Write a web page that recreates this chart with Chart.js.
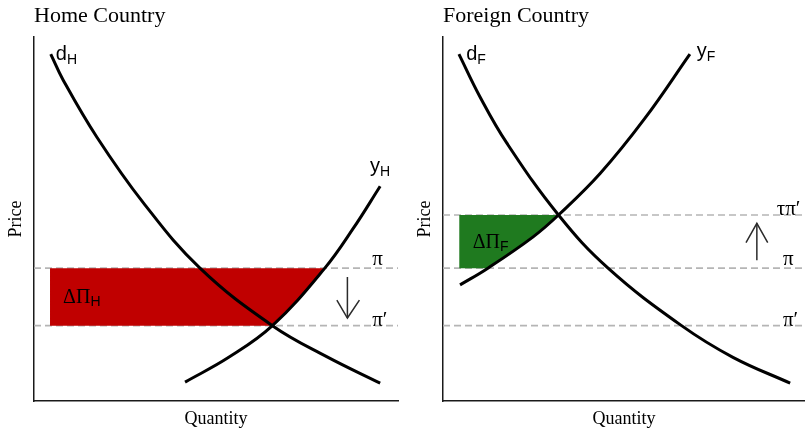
<!DOCTYPE html>
<html>
<head>
<meta charset="utf-8">
<script src="https://cdn.jsdelivr.net/npm/chart.js@4/dist/chart.umd.min.js"></script>
<style>
  html, body { margin: 0; padding: 0; background: #fff; overflow: hidden; }
  #home { position: absolute; left: 0; top: 0; }
  #foreign { position: absolute; left: 409px; top: 0; }
</style>
</head>
<body>
<canvas id="home" width="409" height="430"></canvas>
<canvas id="foreign" width="396" height="430"></canvas>
<script>
// Both panels use a 0–100 quantity axis and a 0–100 price axis.
// Curves are given as [quantity, price] pairs.
const homeDemand = [[4.6, 95.3], [8.0, 88.2], [17.2, 72.6], [30.0, 54.5], [45.6, 36.5], [65.5, 20.7], [80.4, 12.2], [95.1, 4.9]];
const homeSupply = [[41.5, 5.2], [53.5, 12.0], [65.5, 20.7], [79.9, 36.5], [87.7, 47.4], [95.1, 59.0]];
const foreignDemand = [[4.4, 95.3], [10.2, 83.6], [17.6, 70.9], [31.9, 51.1], [45.6, 36.5], [65.9, 20.7], [80.1, 12.0], [95.9, 4.9]];
const foreignSupply = [[4.7, 31.9], [12.4, 36.5], [24.9, 45.1], [31.9, 51.1], [43.4, 62.5], [55.8, 77.7], [68.2, 95.3]];

// Price levels
const worldPrice = 36.5;     // π
const newWorldPrice = 20.7;  // π′
const tariffPrice = 51.1;    // τπ′
const homeLevels = [worldPrice, newWorldPrice];
const foreignLevels = [tariffPrice, worldPrice, newWorldPrice];

// Direction arrows: shaft and open head, as [quantity, price]
const homeArrowShaft = [[86.1, 34.1], [86.1, 22.8]];
const homeArrowHead = [[83.2, 27.7], [86.1, 22.8], [89.4, 27.7]];
const foreignArrowShaft = [[86.7, 38.7], [86.7, 48.8]];
const foreignArrowHead = [[83.7, 43.5], [86.7, 48.8], [89.7, 43.5]];

// Change in profits: shaded band from this quantity to the supply curve
const homeShadeStart = 4.4;
const foreignShadeStart = 4.5;

const SERIF = '"Liberation Serif", "Times New Roman", serif';
const SANS = '"Liberation Sans", Arial, sans-serif';

const pts = arr => arr.map(([x, y]) => ({ x, y }));

function curve(arr) {
  return {
    data: pts(arr), borderColor: '#000', borderWidth: 3,
    pointRadius: 0, fill: false, tension: 0.4,
    borderCapStyle: 'butt', borderJoinStyle: 'round'
  };
}
function stroke(arr) {
  return {
    data: pts(arr), borderColor: '#2b2b2b', borderWidth: 1.5,
    pointRadius: 0, fill: false, tension: 0, borderJoinStyle: 'miter'
  };
}
function level(v) {
  return {
    data: [{ x: 0, y: v }, { x: 100, y: v }], borderColor: '#b5b5b5',
    borderWidth: 1.6, borderDash: [7, 4], pointRadius: 0, fill: false, tension: 0
  };
}

// Shades the region between two price levels, bounded on the right by
// the supply curve (following the curve's own bezier path).
function shadePlugin(spec) {
  return {
    id: 'shade',
    beforeDatasetDraw(chart, args) {
      if (args.index !== spec.curveIndex) return;
      const ctx = chart.ctx, xs = chart.scales.x, ys = chart.scales.y;
      const meta = chart.getDatasetMeta(spec.curveIndex);
      meta.dataset.updateControlPoints(chart.chartArea, 'x');
      const p = meta.data;
      const data = chart.data.datasets[spec.curveIndex].data;
      const i0 = data.findIndex(d => d.y === spec.low);
      const i1 = data.findIndex(d => d.y === spec.high);
      ctx.save();
      ctx.beginPath();
      ctx.moveTo(xs.getPixelForValue(spec.start), ys.getPixelForValue(spec.low));
      ctx.lineTo(p[i0].x, p[i0].y);
      for (let i = i0 + 1; i <= i1; i++) {
        ctx.bezierCurveTo(p[i - 1].cp2x, p[i - 1].cp2y, p[i].cp1x, p[i].cp1y, p[i].x, p[i].y);
      }
      ctx.lineTo(xs.getPixelForValue(spec.start), ys.getPixelForValue(spec.high));
      ctx.closePath();
      ctx.fillStyle = spec.color;
      ctx.fill();
      ctx.restore();
    }
  };
}

// Text annotations placed in data coordinates, with optional subscript.
function labelPlugin(labels) {
  return {
    id: 'labels',
    afterDatasetsDraw(chart) {
      const ctx = chart.ctx, xs = chart.scales.x, ys = chart.scales.y;
      ctx.save();
      ctx.fillStyle = '#000';
      ctx.textAlign = 'left';
      ctx.textBaseline = 'alphabetic';
      for (const l of labels) {
        const px = xs.getPixelForValue(l.at[0]);
        const py = ys.getPixelForValue(l.at[1]);
        ctx.font = l.font;
        ctx.fillText(l.text, px, py);
        if (l.sub) {
          const w = ctx.measureText(l.text).width;
          ctx.font = l.subFont;
          ctx.fillText(l.sub, px + w, py + l.subDrop);
        }
      }
      ctx.restore();
    }
  };
}

function panelOptions(title, padRight) {
  return {
    responsive: false,
    animation: false,
    events: [],
    layout: { padding: { left: 0, top: 0, right: padRight, bottom: 0 } },
    plugins: {
      legend: { display: false },
      tooltip: { enabled: false },
      title: {
        display: true, text: title, align: 'start', fullSize: false, color: '#000',
        font: { family: SERIF, size: 22, weight: 'normal', lineHeight: 1 },
        padding: { top: 5.6, bottom: 9.4 }
      }
    },
    scales: {
      x: {
        type: 'linear', min: 0, max: 100,
        grid: { display: false, drawTicks: false },
        ticks: { display: false },
        border: { display: true, color: '#1a1a1a', width: 1.5 },
        title: {
          display: true, text: 'Quantity', color: '#000',
          font: { family: SERIF, size: 18, lineHeight: 1 },
          padding: { top: 0, bottom: 2 }
        },
        afterFit(s) { s.height = 29; }
      },
      y: {
        type: 'linear', min: 0, max: 100,
        grid: { display: false, drawTicks: false },
        ticks: { display: false },
        border: { display: true, color: '#1a1a1a', width: 1.5 },
        title: {
          display: true, text: 'Price', color: '#000',
          font: { family: SERIF, size: 18, lineHeight: 1 },
          padding: { top: 7, bottom: 0 }
        },
        afterFit(s) { s.width = 34; }
      }
    }
  };
}

const curveFont = '20px ' + SANS;
const subFont = '14px ' + SANS;
const symFont = '21px ' + SERIF;

new Chart(document.getElementById('home'), {
  type: 'line',
  data: {
    datasets: [
      curve(homeDemand), curve(homeSupply),
      stroke(homeArrowShaft), stroke(homeArrowHead),
      ...homeLevels.map(level)
    ]
  },
  options: panelOptions('Home Country', 11),
  plugins: [
    shadePlugin({ curveIndex: 1, start: homeShadeStart, low: newWorldPrice, high: worldPrice, color: '#c00000' }),
    labelPlugin([
      { text: 'd', sub: 'H', at: [6.0, 93.7], font: curveFont, subFont, subDrop: 4 },
      { text: 'y', sub: 'H', at: [92.3, 63.0], font: curveFont, subFont, subDrop: 4 },
      { text: 'π', at: [92.9, 37.4], font: symFont },
      { text: 'π′', at: [92.9, 20.6], font: symFont },
      { text: 'ΔΠ', sub: 'H', at: [8.0, 26.9], font: '20px ' + SERIF, subFont, subDrop: 3 }
    ])
  ]
});

new Chart(document.getElementById('foreign'), {
  type: 'line',
  data: {
    datasets: [
      curve(foreignDemand), curve(foreignSupply),
      stroke(foreignArrowShaft), stroke(foreignArrowHead),
      ...foreignLevels.map(level)
    ]
  },
  options: panelOptions('Foreign Country', 0),
  plugins: [
    shadePlugin({ curveIndex: 1, start: foreignShadeStart, low: worldPrice, high: tariffPrice, color: '#1f7a1f' }),
    labelPlugin([
      { text: 'd', sub: 'F', at: [6.4, 93.7], font: curveFont, subFont, subDrop: 4 },
      { text: 'y', sub: 'F', at: [70.1, 94.6], font: curveFont, subFont, subDrop: 4 },
      { text: 'τπ′', at: [92.2, 51.1], font: symFont },
      { text: 'π', at: [93.9, 37.4], font: symFont },
      { text: 'π′', at: [93.9, 20.6], font: symFont },
      { text: 'ΔΠ', sub: 'F', at: [8.2, 41.9], font: '20px ' + SERIF, subFont, subDrop: 3 }
    ])
  ]
});
</script>
</body>
</html>
